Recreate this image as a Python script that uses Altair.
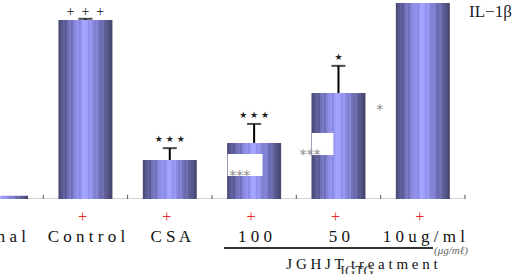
import altair as alt
import pandas as pd

# group names and measured values
categories = ["Normal", "Control", "CSA", "100", "50", "10ug/ml"]
means = [1.8, 99.0, 21.5, 31.0, 58.6, 108.3]
errors = [0.0, 0.6, 6.6, 10.5, 15.0, 0.0]
sig_plus = ["", "+\u2002+\u2002+", "", "", "", ""]
sig_star = ["", "", "★ ★ ★", "★ ★ ★", "★", ""]
stimulated = ["", "+", "+", "+", "+", "+"]

# white gaps cut into two of the bars (value range, group-index range)
gap_low = [12.7, 24.3]
gap_high = [24.9, 36.5]
gap_left = [2.686, 3.686]
gap_right = [3.10, 3.94]

# grey asterisks (group index, value)
ast_x = [2.83, 3.663, 4.49]
ast_y = [14.4, 26.0, 50.9]
ast_text = ["***", "***", "*"]

SERIF = "Liberation Serif"

df = pd.DataFrame({
    "idx": list(range(len(categories))),
    "cat": categories,
    "label": [" ".join(c) for c in categories],
    "mean": means,
    "err": errors,
    "plus": sig_plus,
    "star": sig_star,
    "stim": stimulated,
})
df["top"] = df["mean"] + df["err"]

gaps = pd.DataFrame({"lo": gap_low, "hi": gap_high, "l": gap_left, "r": gap_right})
asts = pd.DataFrame({"x": ast_x, "y": ast_y, "t": ast_text})
ticks = pd.DataFrame({"x": [i + 0.5 for i in range(len(categories))],
                      "y0": [0.0] * len(categories), "y1": [2.3] * len(categories)})
baseline = pd.DataFrame({"a": [-0.5], "b": [len(categories) - 0.5], "z": [0.0]})

xs = alt.Scale(domain=[0.0465, 6.1047], nice=False, zero=False)
ys = alt.Scale(domain=[0, 110], nice=False, zero=True)


def X(field):
    return alt.X(field, type="quantitative", scale=xs, axis=None)


def Y(field):
    return alt.Y(field, type="quantitative", scale=ys, axis=None)


# vertical stripes across each bar, dark at the edges and light in the middle
stripes = ["#4d4d7a", "#58588e", "#6262a0", "#5a5a96", "#7070b6", "#7a7ac6",
           "#7070ba", "#8585d8", "#8e8ee6", "#9494f0", "#8a8ae2", "#9c9cfa",
           "#a6a6ff", "#a0a0fc", "#9292ee", "#9a9af6", "#8a8ae0", "#8080d0",
           "#8686d8", "#7474bc", "#6a6aac", "#7070b4", "#5e5e98", "#58588c",
           "#505080", "#46466e"]
n = len(stripes)
stops = []
for i, c in enumerate(stripes):
    stops.append(alt.GradientStop(offset=i / n, color=c))
    stops.append(alt.GradientStop(offset=(i + 1) / n, color=c))
fill = alt.Gradient(gradient="linear", x1=0, x2=1, y1=0, y2=0, stops=stops)

base = alt.Chart(df)

bars = base.mark_bar(size=54, orient="vertical", color=fill, clip=True).encode(
    x=X("idx"), y=Y("mean")
)

gap_rects = alt.Chart(gaps).mark_rect(color="white").encode(
    x=X("l"), x2="r", y=Y("lo"), y2="hi"
)

with_err = base.transform_filter("datum.err > 0")
err_line = with_err.mark_rule(color="black", strokeWidth=2).encode(
    x=X("idx"), y=Y("mean"), y2="top"
)
err_cap = with_err.mark_tick(orient="horizontal", size=14, thickness=2, color="black").encode(
    x=X("idx"), y=Y("top")
)

plus_txt = base.mark_text(font=SERIF, fontSize=14, dy=-7, baseline="middle", color="#111").encode(
    x=X("idx"), y=Y("top"), text="plus"
)
star_txt = base.mark_text(font="DejaVu Sans", fontSize=9, dy=-9, baseline="middle", color="#222").encode(
    x=X("idx"), y=Y("top"), text="star"
)

ast_txt = alt.Chart(asts).mark_text(font="DejaVu Sans", fontSize=14, dy=3, baseline="middle", color="#888").encode(
    x=X("x"), y=Y("y"), text="t"
)

axis_line = alt.Chart(baseline).mark_rule(color="#d4d4d4", strokeWidth=2, clip=True).encode(
    x=X("a"), x2="b", y=Y("z")
)
axis_ticks = alt.Chart(ticks).mark_rule(color="#555", strokeWidth=1).encode(
    x=X("x"), y=Y("y0"), y2="y1"
)

red_plus = base.mark_text(font=SERIF, fontSize=16, dx=-3, color="#e8292b", baseline="middle").encode(
    x=X("idx"), y=alt.value(217), text="stim"
)
cat_txt = base.transform_filter("datum.idx > 0").mark_text(
    font=SERIF, fontSize=17, dx=1, color="#111", baseline="middle"
).encode(x=X("idx"), y=alt.value(237), text="label")
# the first group's name runs off the left edge, so it is anchored by its end
first_txt = base.transform_filter("datum.idx == 0").mark_text(
    font=SERIF, fontSize=17, dx=25, align="right", color="#111", baseline="middle"
).encode(x=X("idx"), y=alt.value(237), text="label")

il_txt = alt.Chart(pd.DataFrame({"t": ["IL\u22121\u03b2"]})).mark_text(
    font=SERIF, fontSize=17, align="left", baseline="middle", color="#222"
).encode(x=alt.value(469), y=alt.value(12), text="t")

bracket = alt.Chart(pd.DataFrame({"k": [0]})).mark_rule(color="#333", strokeWidth=2).encode(
    x=alt.value(224), x2=alt.value(433), y=alt.value(248)
)
unit_txt = alt.Chart(pd.DataFrame({"t": ["(\u03bcg/m\u2113)"]})).mark_text(
    font=SERIF, fontSize=11, fontStyle="italic", align="left", baseline="middle", color="#666"
).encode(x=alt.value(434), y=alt.value(251), text="t")
treat_txt = alt.Chart(pd.DataFrame({"t": ["J G H J T\u2002t r e a t m e n t"]})).mark_text(
    font=SERIF, fontSize=15, align="center", baseline="middle", color="#111"
).encode(x=alt.value(362), y=alt.value(264), text="t")
igtg_txt = alt.Chart(pd.DataFrame({"t": ["IGTG"]})).mark_text(
    font=SERIF, fontSize=14, align="center", baseline="top", color="#333"
).encode(x=alt.value(357), y=alt.value(265), text="t")

chart = alt.layer(
    axis_line, bars, gap_rects, axis_ticks, err_line, err_cap,
    plus_txt, star_txt, ast_txt, red_plus, cat_txt, first_txt,
    il_txt, bracket, unit_txt, treat_txt, igtg_txt,
).properties(
    width=521, height=199,
    background="white",
    autosize=alt.AutoSizeParams(type="none"),
    padding={"left": 0, "top": 0, "right": 0, "bottom": 75},
).configure_view(stroke=None)

chart.save("out.html", embed_options={"renderer": "svg", "actions": False})
